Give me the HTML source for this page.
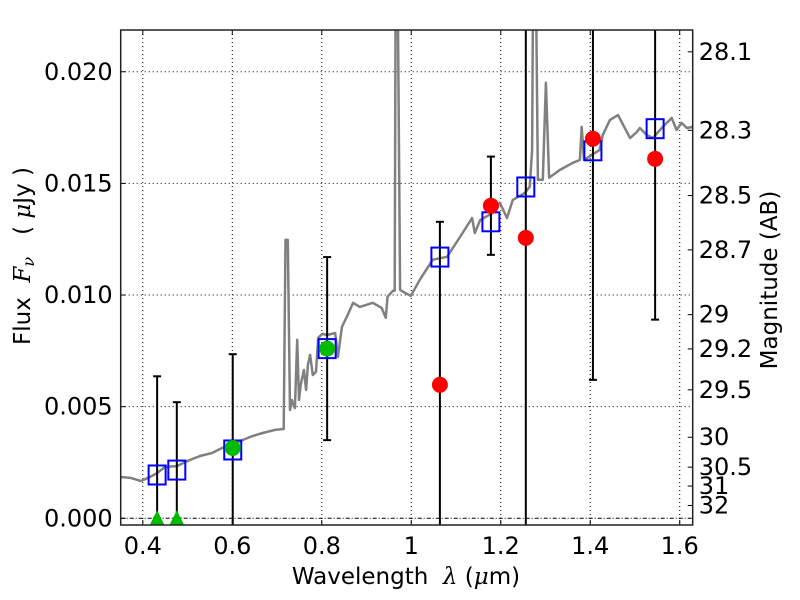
<!DOCTYPE html>
<html><head><meta charset="utf-8"><style>
body{margin:0;background:#fff;}
svg{display:block;font-family:"DejaVu Sans","Liberation Sans",sans-serif;}
text{white-space:pre;}
</style></head><body>
<svg id="chart" width="800" height="600" xmlns="http://www.w3.org/2000/svg">
<defs><clipPath id="plotclip"><rect x="120.7" y="30" width="572" height="495"/></clipPath></defs>
<g id="grid"></g>
<g id="plot" clip-path="url(#plotclip)"></g>
<g id="axes"></g>
<text x="30" y="256" font-size="23" transform="rotate(-90 30 256)" text-anchor="middle">Flux  <tspan font-family="'DejaVu Serif','Liberation Serif',serif" font-style="italic">F<tspan font-size="16" dy="4">ν</tspan></tspan><tspan dy="-4">   ( </tspan><tspan font-style="italic" font-family="'DejaVu Serif','Liberation Serif',serif">μ</tspan>Jy )</text>
<text x="777" y="280" font-size="23" transform="rotate(-90 777 280)" text-anchor="middle">Magnitude (AB)</text>
<text x="406" y="584" font-size="23" text-anchor="middle">Wavelength  <tspan font-style="italic" font-family="'DejaVu Serif','Liberation Serif',serif">λ</tspan> (<tspan font-style="italic" font-family="'DejaVu Serif','Liberation Serif',serif">μ</tspan>m)</text>
</svg>
<script>
const specLam=[0.349,0.373,0.396,0.416,0.432,0.450,0.476,0.505,0.528,0.555,0.577,0.601,0.624,0.646,0.668,0.695,0.715,0.719,0.724,0.729,0.733,0.740,0.745,0.749,0.753,0.760,0.765,0.769,0.774,0.780,0.787,0.792,0.801,0.812,0.830,0.836,0.845,0.858,0.870,0.885,0.914,0.934,0.943,0.947,0.959,0.963,0.965,0.970,0.975,0.986,0.999,1.019,1.048,1.080,1.109,1.136,1.142,1.154,1.182,1.198,1.214,1.227,1.254,1.265,1.270,1.272,1.279,1.283,1.294,1.301,1.308,1.332,1.361,1.377,1.381,1.386,1.421,1.428,1.444,1.462,1.489,1.504,1.511,1.526,1.540,1.562,1.582,1.593,1.604,1.616,1.629];
const specFlux=[0.00185,0.00181,0.00167,0.00185,0.00203,0.00230,0.00234,0.00261,0.00279,0.00293,0.00315,0.00329,0.00351,0.00369,0.00382,0.00396,0.00400,0.01247,0.01247,0.00485,0.00530,0.00494,0.00799,0.00530,0.00597,0.00664,0.00575,0.00687,0.00732,0.00642,0.00656,0.00808,0.00826,0.00821,0.00830,0.00723,0.00857,0.00911,0.00965,0.00947,0.00965,0.00942,0.00898,0.00992,0.01019,0.01019,0.0232,0.0232,0.01023,0.01010,0.00996,0.01068,0.01158,0.01171,0.01260,0.01345,0.01278,0.01336,0.01368,0.01413,0.01345,0.01426,0.01458,0.01485,0.0165,0.0232,0.0232,0.01516,0.01516,0.01951,0.01525,0.01560,0.01592,0.01605,0.01753,0.01605,0.01650,0.01717,0.01784,0.01806,0.01703,0.01730,0.01748,0.01717,0.01703,0.01753,0.01793,0.01739,0.01771,0.01748,0.01753];
const modelLam=[0.432,0.476,0.601,0.812,1.064,1.178,1.256,1.406,1.545];
const modelFlux=[0.00194,0.00216,0.00306,0.0076,0.0117,0.01328,0.01484,0.01646,0.01745];
const obsLam=[0.601,0.812,1.064,1.178,1.256,1.406,1.545];
const obsFlux=[0.00315,0.0076,0.00598,0.0140,0.01256,0.0170,0.0161];
const obsErr=[0.0042,0.0041,0.0073,0.0022,0.016,0.0108,0.0072];
const obsColor=['#00bb00','#00bb00','red','red','red','red','red'];
const limLam=[0.432,0.476];
const limUpper=[0.00636,0.0052];
const xTicks=[0.4,0.6,0.8,1.0,1.2,1.4,1.6];
const xTickLabels=['0.4','0.6','0.8','1','1.2','1.4','1.6'];
const yTicks=[0,0.005,0.01,0.015,0.02];
const yTickLabels=['0.000','0.005','0.010','0.015','0.020'];
const magTicks=[28.1,28.3,28.5,28.7,29,29.2,29.5,30,30.5,31,32];

const X0=0.3506,X1=1.629,Y0=-0.00030,Y1=0.02187;
const L=120.7,R=692.7,T=30,B=525;
const sx=v=>L+(v-X0)/(X1-X0)*(R-L);
const sy=v=>B-(v-Y0)/(Y1-Y0)*(B-T);
const NS='http://www.w3.org/2000/svg';
function mk(tag,parent,attrs){const e=document.createElementNS(NS,tag);for(const k in attrs)e.setAttribute(k,attrs[k]);parent.appendChild(e);return e;}
const grid=document.getElementById('grid'),plot=document.getElementById('plot'),axes=document.getElementById('axes');

xTicks.forEach((t,i)=>{
  const g=mk('line',grid,{x1:sx(t),x2:sx(t),y1:T,y2:B,stroke:'#000','stroke-width':1,'stroke-dasharray':'1,3'});
  
  
  const tk=mk('line',axes,{x1:sx(t),x2:sx(t),y1:B,y2:B-5,stroke:'#000'});
  
  
  const tk2=mk('line',axes,{x1:sx(t),x2:sx(t),y1:T,y2:T+5,stroke:'#000'});
  
  
  const tx=mk('text',axes,{x:sx(t),y:B+29,'font-size':24,'text-anchor':'middle'});
  tx.textContent=xTickLabels[i];
  
  
});
yTicks.forEach((t,i)=>{
  const g=mk('line',grid,{x1:L,x2:R,y1:sy(t),y2:sy(t),stroke:'#000','stroke-width':1,'stroke-dasharray':i===0?'4,2,1,2':'1,3'});
  
  
  const tk=mk('line',axes,{x1:L,x2:L+5,y1:sy(t),y2:sy(t),stroke:'#000'});
  
  
  const tx=mk('text',axes,{x:L-8,y:sy(t)+8,'font-size':24,'text-anchor':'end'});
  tx.textContent=yTickLabels[i];
  
  
});
magTicks.forEach(m=>{
  const f=Math.pow(10,(23.9-m)/2.5);
  const y=sy(f);
  const tk=mk('line',axes,{x1:R-5,x2:R,y1:y,y2:y,stroke:'#000'});
  
  
  const tx=mk('text',axes,{x:R+6,y:y+8,'font-size':24});
  tx.textContent=String(m);
  
  
});

const pts=specLam.map((l,i)=>sx(l).toFixed(1)+','+sy(specFlux[i]).toFixed(1)).join(' ');
const sp=mk('polyline',plot,{points:pts,fill:'none',stroke:'#808080','stroke-width':2.5,'stroke-linejoin':'round'});



limLam.forEach((l,i)=>{
  const x=sx(l);
  const e=mk('line',plot,{x1:x,x2:x,y1:sy(0),y2:sy(limUpper[i]),stroke:'#000','stroke-width':2});
  
  
  [0,limUpper[i]].forEach(v=>{
    const c=mk('line',plot,{x1:x-4,x2:x+4,y1:sy(v),y2:sy(v),stroke:'#000','stroke-width':2});
    
    
  });
});
obsLam.forEach((l,i)=>{
  const x=sx(l);
  const e=mk('line',plot,{x1:x,x2:x,y1:sy(obsFlux[i]-obsErr[i]),y2:sy(obsFlux[i]+obsErr[i]),stroke:'#000','stroke-width':2});
  
  
  [obsFlux[i]-obsErr[i],obsFlux[i]+obsErr[i]].forEach(v=>{
    const c=mk('line',plot,{x1:x-4,x2:x+4,y1:sy(v),y2:sy(v),stroke:'#000','stroke-width':2});
    
    
  });
});
modelLam.forEach((l,i)=>{
  const r=mk('rect',plot,{x:sx(l)-8.5,y:sy(modelFlux[i])-9.5,width:17,height:19,fill:'none',stroke:'#0000ff','stroke-width':2});
  
  
});
obsLam.forEach((l,i)=>{
  const c=mk('circle',plot,{cx:sx(l),cy:sy(obsFlux[i]),r:8,fill:obsColor[i]});
  
  
});
limLam.forEach(l=>{
  const x=sx(l),y=sy(0);
  const p=mk('polygon',plot,{points:(x-8)+','+(y+8)+' '+(x+8)+','+(y+8)+' '+x+','+(y-8),fill:'#00bb00'});
  
  
});
const fr=mk('rect',axes,{x:L,y:T,width:R-L,height:B-T,fill:'none',stroke:'#222','stroke-width':1.5});


</script>
</body></html>
